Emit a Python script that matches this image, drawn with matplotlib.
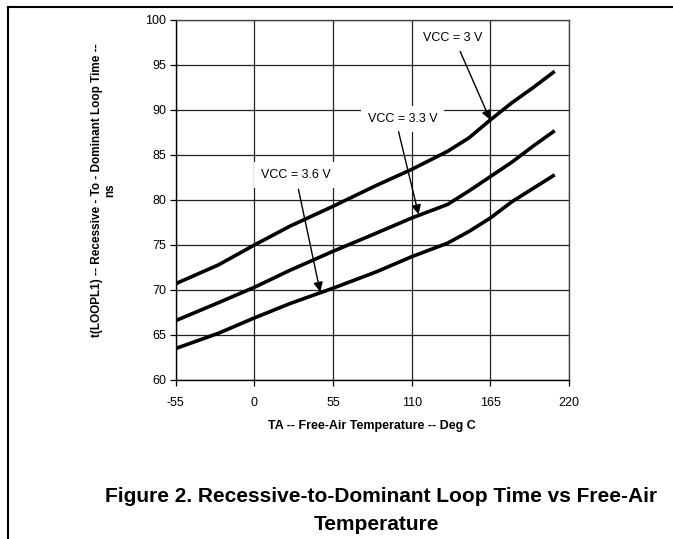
import matplotlib
matplotlib.use("Agg")
import matplotlib.pyplot as plt
from matplotlib.lines import Line2D

# ---- data ----
temps = [-55, -25, 0, 25, 55, 85, 110, 135, 150, 165, 180, 195, 210]
vcc_3v0 = [70.7, 72.8, 75.0, 77.1, 79.3, 81.6, 83.4, 85.4, 86.9, 88.9, 90.8, 92.5, 94.3]
vcc_3v3 = [66.6, 68.6, 70.3, 72.2, 74.3, 76.3, 78.0, 79.5, 81.0, 82.6, 84.2, 86.0, 87.7]
vcc_3v6 = [63.5, 65.2, 66.9, 68.5, 70.2, 72.0, 73.7, 75.2, 76.5, 78.0, 79.8, 81.3, 82.8]
x_ticks = [-55, 0, 55, 110, 165, 220]
y_ticks = [60, 65, 70, 75, 80, 85, 90, 95, 100]
labels = ["VCC = 3 V", "VCC = 3.3 V", "VCC = 3.6 V"]

plt.rcParams['font.family'] = ['Liberation Sans', 'DejaVu Sans']
plt.rcParams['axes.unicode_minus'] = False

fig = plt.figure(figsize=(6.73, 5.39), dpi=100)
ax = fig.add_axes([0.2611, 0.295, 0.5844, 0.6679])

for s in (vcc_3v0, vcc_3v3, vcc_3v6):
    ax.plot(temps, s, color='black', lw=2.6, solid_capstyle='butt', zorder=3)

ax.set_xlim(-55, 220)
ax.set_ylim(60, 100)
ax.set_xticks(x_ticks)
ax.set_yticks(y_ticks)
ax.grid(True, color='#222222', lw=0.9, zorder=0)
ax.set_axisbelow(True)
for sp in ax.spines.values():
    sp.set_color('#444444')
    sp.set_linewidth(1.0)
ax.spines['left'].set_color('black')
ax.spines['bottom'].set_color('black')
ax.tick_params(axis='both', direction='out', length=4, width=0.9, labelsize=9, colors='black')
ax.tick_params(axis='x', pad=8)
ax.tick_params(axis='y', pad=3)

ax.set_xlabel("TA -- Free-Air Temperature -- Deg C", fontsize=9, fontweight='bold', labelpad=8)
ax.set_ylabel("t(LOOPL1) -- Recessive - To - Dominant Loop Time --\nns", fontsize=8.5,
              fontweight='bold', linespacing=1.2)
ax.yaxis.set_label_coords(-0.150, 0.527)

box = dict(boxstyle='square,pad=0.55', fc='white', ec='none')
arrow = dict(arrowstyle='-|>', color='black', lw=1.0, mutation_scale=14, shrinkA=0, shrinkB=0)

# label texts
ax.text(138.7, 98.0, labels[0], fontsize=9, ha='center', va='center', bbox=box, zorder=4)
ax.text(103.7, 88.97, labels[1], fontsize=9, ha='center', va='center', bbox=box, zorder=4)
ax.text(29.1, 82.8, labels[2], fontsize=9, ha='center', va='center', bbox=box, zorder=4)

# arrows
ax.annotate("", xy=(164.9, 88.9), xytext=(143.9, 96.5), arrowprops=arrow, zorder=5)
ax.annotate("", xy=(114.8, 78.4), xytext=(100.8, 87.6), arrowprops=arrow, zorder=5)
ax.annotate("", xy=(46.0, 69.8), xytext=(30.8, 81.2), arrowprops=arrow, zorder=5)

# title
fig.text(0.566, 1 - 497 / 539, "Figure 2. Recessive-to-Dominant Loop Time vs Free-Air",
         fontsize=15, fontweight='bold', ha='center', va='center')
fig.text(0.559, 1 - 524 / 539, "Temperature",
         fontsize=15, fontweight='bold', ha='center', va='center')

# page border
fig.add_artist(Line2D([8 / 673, 8 / 673], [0, 1 - 7 / 539], color='black', lw=1.5,
                      transform=fig.transFigure))
fig.add_artist(Line2D([8 / 673, 1], [1 - 7 / 539, 1 - 7 / 539], color='black', lw=1.5,
                      transform=fig.transFigure))

fig.savefig("out.png", dpi=100, facecolor='white')
